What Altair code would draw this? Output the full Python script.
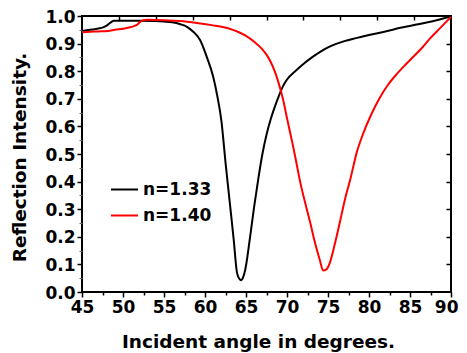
import altair as alt
import pandas as pd

# n = 1.33 (black)
angle_133 = [45, 46, 47, 47.5, 48, 48.3, 48.6, 48.9, 50, 52, 54, 55, 56, 57, 57.8, 58.5, 59.4,
             60.2, 61, 61.5, 62, 62.5, 63, 63.5, 63.9, 64.2, 64.4, 64.6, 64.9, 65.5, 66, 66.5,
             67, 67.5, 68, 68.5, 69, 69.5, 70, 71, 72, 73, 74, 75, 76, 77, 78, 79, 80, 82,
             84, 86, 88, 90]
refl_133 = [0.946, 0.950, 0.955, 0.958, 0.965, 0.972, 0.979, 0.983, 0.983, 0.983, 0.982, 0.980,
            0.977, 0.970, 0.961, 0.945, 0.913, 0.853, 0.78, 0.71, 0.62, 0.47, 0.33, 0.19, 0.07,
            0.047, 0.043, 0.05, 0.08, 0.20, 0.31, 0.41, 0.50, 0.57, 0.625, 0.67, 0.71, 0.745,
            0.77, 0.80, 0.826, 0.849, 0.869, 0.886, 0.899, 0.909, 0.917, 0.924, 0.931, 0.944,
            0.958, 0.97, 0.983, 0.998]

# n = 1.40 (red)
angle_140 = [45, 46, 47, 48.2, 49, 50.2, 51, 51.5, 51.8, 52.1, 52.5, 53, 55, 57, 59, 61, 62, 63,
             64, 65, 66, 67, 67.5, 68, 68.5, 69, 69.5, 70, 70.4, 70.8, 71.2,
             71.6, 72.2, 72.8, 73.4, 74, 74.4, 74.8, 75.2, 75.8, 76.5, 77.1, 77.7, 78.5, 79.3,
             80.3, 81.3, 82.3, 83.4, 84.5, 85.5, 86.5, 87.4, 88.7, 90]
refl_140 = [0.941, 0.943, 0.944, 0.946, 0.950, 0.955, 0.960, 0.965, 0.970, 0.979, 0.985, 0.986,
            0.985, 0.982, 0.975, 0.966, 0.961, 0.954, 0.943, 0.928, 0.907, 0.879, 0.86, 0.834,
            0.80, 0.755, 0.70, 0.63, 0.575, 0.52, 0.46, 0.40, 0.325, 0.255, 0.18,
            0.116, 0.078, 0.082, 0.104, 0.17, 0.26, 0.34, 0.406, 0.505, 0.575, 0.645, 0.703,
            0.75, 0.79, 0.825, 0.855, 0.886, 0.917, 0.957, 0.997]

series_names = ["n=1.33", "n=1.40"]
series_colors = ["#000000", "#ff0000"]

x_major = [45, 50, 55, 60, 65, 70, 75, 80, 85]
x_last = [90]
x_minor = [47.5, 52.5, 57.5, 62.5, 67.5, 72.5, 77.5, 82.5, 87.5]
x_top = [49.5, 54, 58.5, 63, 67.5, 72, 76.5, 81, 85.5]
y_major = [0.0, 0.1, 0.2, 0.3, 0.4, 0.5, 0.6, 0.7, 0.8, 0.9, 1.0]
y_minor = [0.05, 0.15, 0.25, 0.35, 0.45, 0.55, 0.65, 0.75, 0.85, 0.95]
y_right = [0.1, 0.2, 0.3, 0.4, 0.5, 0.6, 0.7, 0.8, 0.9]

rows = []
for a, r in zip(angle_133, refl_133):
    rows.append({"angle": a, "refl": r, "series": series_names[0]})
for a, r in zip(angle_140, refl_140):
    rows.append({"angle": a, "refl": r, "series": series_names[1]})
df = pd.DataFrame(rows)

FONT = "DejaVu Sans"
xscale = alt.Scale(domain=[45, 90], nice=False, zero=False)
yscale = alt.Scale(domain=[0, 1], nice=False, zero=False)

base = alt.Chart(df)

lab = dict(labelFont=FONT, labelFontSize=17, labelFontWeight="bold", labelColor="black",
           labelPadding=2, labelFlush=False)

lines = base.mark_line(strokeWidth=2, interpolate="monotone").encode(
    x=alt.X("angle:Q", scale=xscale,
            axis=alt.Axis(orient="bottom", values=x_major, tickSize=5, tickWidth=1.5,
                          tickColor="black", domain=False, grid=False, **lab,
                          title="Incident angle in degrees.", titleFont=FONT,
                          titleFontSize=18.5, titleFontWeight="bold", titleColor="black",
                          titleX=176, titleY=55, titleBaseline="alphabetic",
                          titleAlign="center")),
    y=alt.Y("refl:Q", scale=yscale,
            axis=alt.Axis(orient="left", values=y_major, format=".1f", tickSize=5,
                          tickWidth=1.5, tickColor="black", domain=False, grid=False, **lab,
                          labelOffset=1,
                          title="Reflection Intensity.", titleFont=FONT,
                          titleFontSize=18.5, titleFontWeight="bold", titleColor="black",
                          titleAngle=270, titleX=-57, titleY=141,
                          titleBaseline="alphabetic", titleAlign="center")),
    color=alt.Color("series:N",
                    scale=alt.Scale(domain=series_names, range=series_colors),
                    legend=alt.Legend(title=None, orient="none", legendX=28, legendY=159,
                                      symbolType="stroke", symbolSize=729,
                                      symbolStrokeWidth=2, labelFont=FONT,
                                      labelFontSize=17, labelFontWeight="bold",
                                      labelColor="black", labelOffset=4, rowPadding=3,
                                      padding=0)),
)

minor = base.mark_point(opacity=0).encode(
    x=alt.X("angle:Q", scale=xscale,
            axis=alt.Axis(orient="bottom", values=x_minor, tickSize=3, tickWidth=1.5,
                          tickColor="black", domain=False, grid=False, labels=False,
                          title=None)),
    y=alt.Y("refl:Q", scale=yscale,
            axis=alt.Axis(orient="left", values=y_minor, tickSize=3, tickWidth=1,
                          tickColor="#666666", domain=False, grid=False, labels=False,
                          title=None)),
)

inner = base.mark_point(opacity=0).encode(
    x=alt.X("angle:Q", scale=xscale,
            axis=alt.Axis(orient="top", values=x_top, tickSize=4, tickWidth=1.5,
                          tickColor="black", offset=-4, domain=False, grid=False,
                          labels=False, title=None)),
    y=alt.Y("refl:Q", scale=yscale,
            axis=alt.Axis(orient="right", values=y_right, tickSize=5, tickWidth=1.5,
                          tickColor="black", offset=-5, domain=False, grid=False,
                          labels=False, title=None)),
)

last = base.mark_point(opacity=0).encode(
    x=alt.X("angle:Q", scale=xscale,
            axis=alt.Axis(orient="bottom", values=x_last, tickSize=5, tickWidth=1.5,
                          tickColor="black", domain=False, grid=False, **lab,
                          labelAlign="right", labelOffset=7, title=None)),
    y=alt.Y("refl:Q", scale=yscale, axis=None),
)

chart = alt.layer(lines, minor, inner, last).resolve_axis(
    x="independent", y="independent"
).properties(
    width=369, height=276,
    autosize=alt.AutoSizeParams(type="none"),
    padding={"left": 74, "top": 8, "right": 8, "bottom": 61},
).configure_view(stroke="black", strokeWidth=2)

chart.save("out.html", embed_options={"renderer": "svg", "actions": False})
